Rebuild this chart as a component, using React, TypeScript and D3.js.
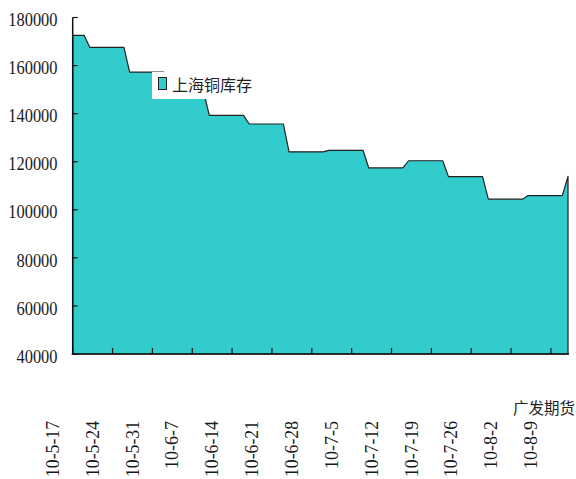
import React from 'react'
import * as d3 from 'd3';

// weekly SHFE copper stock, each value held from weekStart to weekEnd (daily axis)
const weekStart = ['2010-05-17', '2010-05-20', '2010-05-27', '2010-06-03', '2010-06-10', '2010-06-17', '2010-06-24',
  '2010-07-01', '2010-07-08', '2010-07-15', '2010-07-22', '2010-07-29', '2010-08-05', '2010-08-12'];
const weekEnd = ['2010-05-19', '2010-05-26', '2010-06-02', '2010-06-09', '2010-06-16', '2010-06-23', '2010-06-30',
  '2010-07-07', '2010-07-14', '2010-07-21', '2010-07-28', '2010-08-04', '2010-08-11', '2010-08-12'];
const stock = [172600, 167600, 157300, 149000, 139300, 135700, 124100,
  124750, 117400, 120400, 113800, 104400, 105900, 113900];

const tickDates = ['2010-05-17', '2010-05-24', '2010-05-31', '2010-06-07', '2010-06-14', '2010-06-21', '2010-06-28',
  '2010-07-05', '2010-07-12', '2010-07-19', '2010-07-26', '2010-08-02', '2010-08-09'];
const tickLabels = ['10-5-17', '10-5-24', '10-5-31', '10-6-7', '10-6-14', '10-6-21', '10-6-28',
  '10-7-5', '10-7-12', '10-7-19', '10-7-26', '10-8-2', '10-8-9'];
const yTicks = [40000, 60000, 80000, 100000, 120000, 140000, 160000, 180000];

const seriesName = '上海铜库存';
const sourceText = '广发期货';

const parse = d3.timeParse('%Y-%m-%d');

const App = () => {
  const left = 72.7, right = 568, top = 17.5, bottom = 354;

  const x = d3.scaleTime()
    .domain([parse('2010-05-17') as Date, parse('2010-08-12') as Date])
    .range([left, right]);
  const y = d3.scaleLinear()
    .domain([40000, 180000])
    .range([bottom, top]);

  const points: [Date, number][] = [];
  stock.forEach((v, i) => {
    points.push([parse(weekStart[i]) as Date, v]);
    if (weekEnd[i] !== weekStart[i]) points.push([parse(weekEnd[i]) as Date, v]);
  });

  const area = d3.area<[Date, number]>()
    .x(d => x(d[0]))
    .y0(bottom)
    .y1(d => y(d[1]));

  const numFont = "'Liberation Serif', 'DejaVu Serif', serif";
  const cjkFont = "'Noto Sans CJK SC', sans-serif";

  return (
    <svg width={576} height={479} style={{ position: 'absolute', left: 0, top: 0 }}>
      <rect width={576} height={479} fill='#fff' />
      <path d={area(points) || ''} fill='#33CCCC' stroke='#222' strokeWidth={1.2} strokeLinejoin='round' />

      {/* legend */}
      <rect x={152} y={72} width={100} height={27} fill='#fff' />
      <rect x={158.5} y={77.5} width={8} height={12} fill='#33CCCC' stroke='#222' strokeWidth={1} />
      <text x={172} y={91} fontFamily={cjkFont} fontSize={16} fill='#222'>{seriesName}</text>

      {/* y axis */}
      <line x1={left} x2={left} y1={top} y2={bottom} stroke='#111' strokeWidth={1.5} />
      {yTicks.map(t => (
        <g key={t}>
          <line x1={left} x2={left + 5} y1={y(t)} y2={y(t)} stroke='#111' strokeWidth={1.2} />
          <text x={57.5} y={y(t) + 2} dy='0.35em' textAnchor='end' fontFamily={numFont} fontSize={19}
            textLength={String(t).length * 8.2} lengthAdjust='spacingAndGlyphs' fill='#1a1a1a'>{t}</text>
        </g>
      ))}

      {/* x axis */}
      <line x1={left - 1} x2={right + 1} y1={bottom} y2={bottom} stroke='#111' strokeWidth={1.5} />
      {tickDates.map((d, i) => {
        const tx = x(parse(d) as Date);
        return (
          <g key={d}>
            <line x1={tx} x2={tx} y1={bottom} y2={bottom - 6} stroke='#111' strokeWidth={1.2} />
            <text transform={`translate(${tx - 20.5},421) rotate(-90)`} dy='0.35em' textAnchor='end'
              fontFamily={numFont} fontSize={19} textLength={tickLabels[i].length * 8.0}
              lengthAdjust='spacingAndGlyphs' fill='#1a1a1a'>{tickLabels[i]}</text>
          </g>
        );
      })}

      <text x={513} y={414} fontFamily={cjkFont} fontSize={15.5} fill='#222'>{sourceText}</text>
    </svg>
  )
}

export default App
